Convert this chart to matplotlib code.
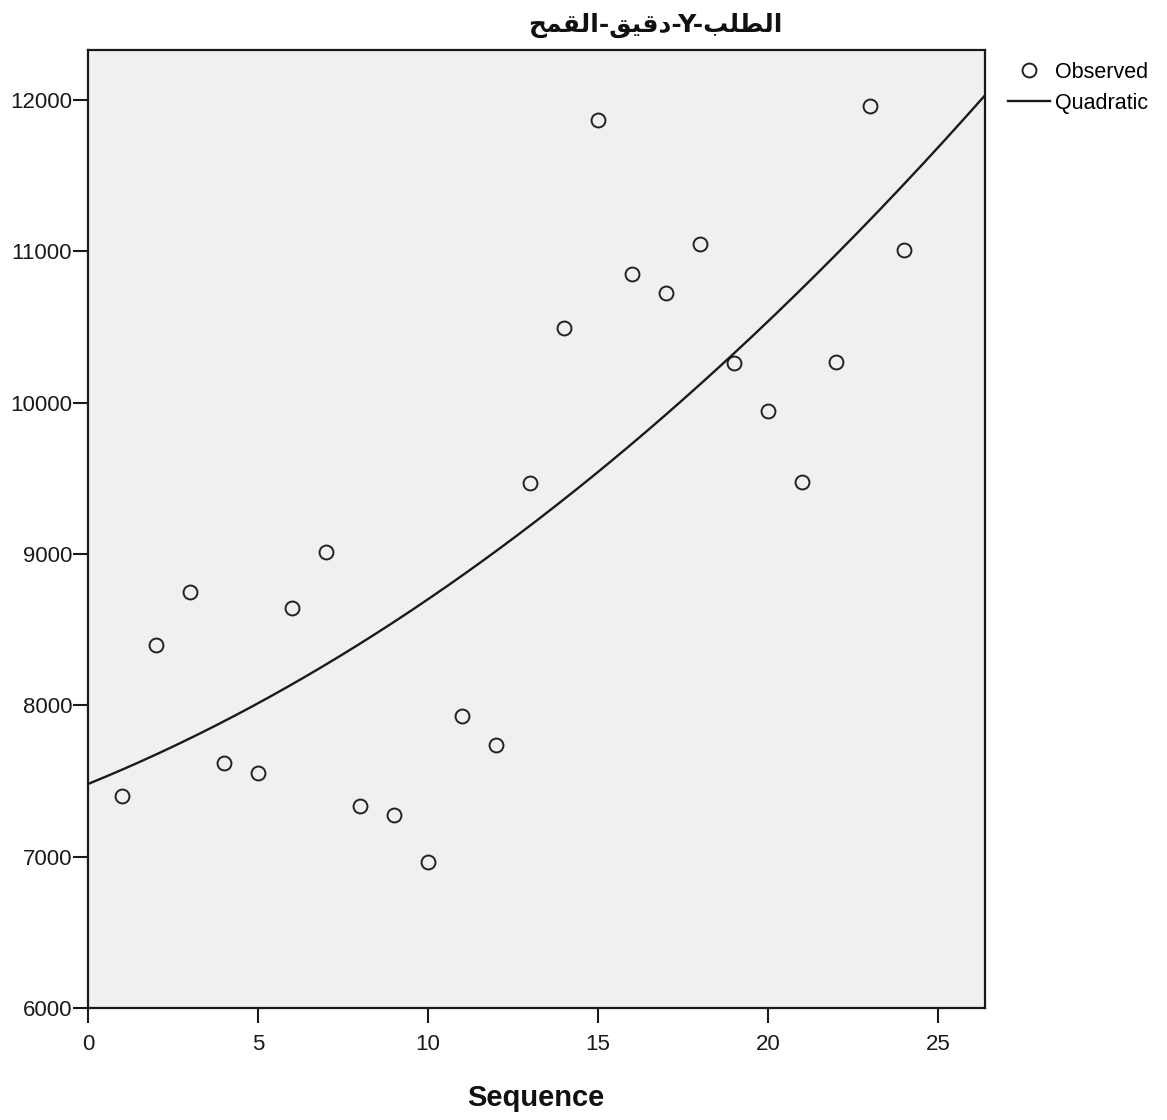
import numpy as np
import matplotlib
matplotlib.use("Agg")
import matplotlib.pyplot as plt

# ---- data ----
sequence = np.arange(1, 25)
observed = [7400, 8400, 8750, 7620, 7555, 8645, 9010, 7335, 7275, 6965,
            7930, 7735, 9470, 10490, 11870, 10850, 10725, 11050, 10260, 9945,
            9475, 10270, 11960, 11010]
x_ticks = [0, 5, 10, 15, 20, 25]
y_ticks = [6000, 7000, 8000, 9000, 10000, 11000, 12000]
x_label = "Sequence"
series_labels = ["Observed", "Quadratic"]
# Title "الطلب-Y-دقيق-القمح" pre-shaped into Arabic presentation forms, visual order
title_logical = "الطلب-Y-دقيق-القمح"
title_visual = ("\uFEA2\uFEE4\uFED8\uFEDF\uFE8D" + "-" +
                "\uFED6\uFEF4\uFED7\uFEA9" + "-Y-" +
                "\uFE90\uFEE0\uFEC4\uFEDF\uFE8D")

plt.rcParams['font.family'] = ['Liberation Sans', 'DejaVu Sans']

fig = plt.figure(figsize=(11.67, 11.20), dpi=100)
ax = fig.add_axes([88/1167, 1 - 1008/1120, (985-88)/1167, (1008-50)/1120])
ax.set_facecolor('#F0F0F0')

# quadratic fit
coef = np.polyfit(sequence, observed, 2)
xs = np.linspace(0, 26.38, 300)
ys = np.polyval(coef, xs)

ax.plot(sequence, observed, linestyle='none', marker='o', markersize=10,
        markerfacecolor='none', markeredgecolor='#222222', markeredgewidth=1.4,
        label=series_labels[0])
ax.plot(xs, ys, color='#1a1a1a', linewidth=1.7, label=series_labels[1])

ax.set_xlim(0, 26.38)
ax.set_ylim(6000, 12330)
ax.set_xticks(x_ticks)
ax.set_yticks(y_ticks)
ax.tick_params(direction='out', length=10.5, width=1.5, labelsize=16, colors='#1a1a1a')
ax.tick_params(axis='y', pad=1)
ax.tick_params(axis='x', pad=8)
for s in ax.spines.values():
    s.set_linewidth(1.6)
    s.set_color('#1a1a1a')

fig.text(536/1167, 1 - 1106/1120, x_label, fontsize=21, fontweight='bold',
         ha='center', va='baseline', color='#111111')
fig.text(655/1167, 1 - 25/1120, title_visual, fontsize=18, fontweight='bold',
         family=['DejaVu Sans'], ha='center', va='center', color='#111111')

fig.legend(loc='upper left', bbox_to_anchor=(1008/1167, 1 - 62/1120), frameon=False,
           fontsize=15.5, handlelength=1.95, handletextpad=0.25, labelspacing=0.45,
           borderaxespad=0, borderpad=0)

fig.savefig('out.png', dpi=100, facecolor='white')
